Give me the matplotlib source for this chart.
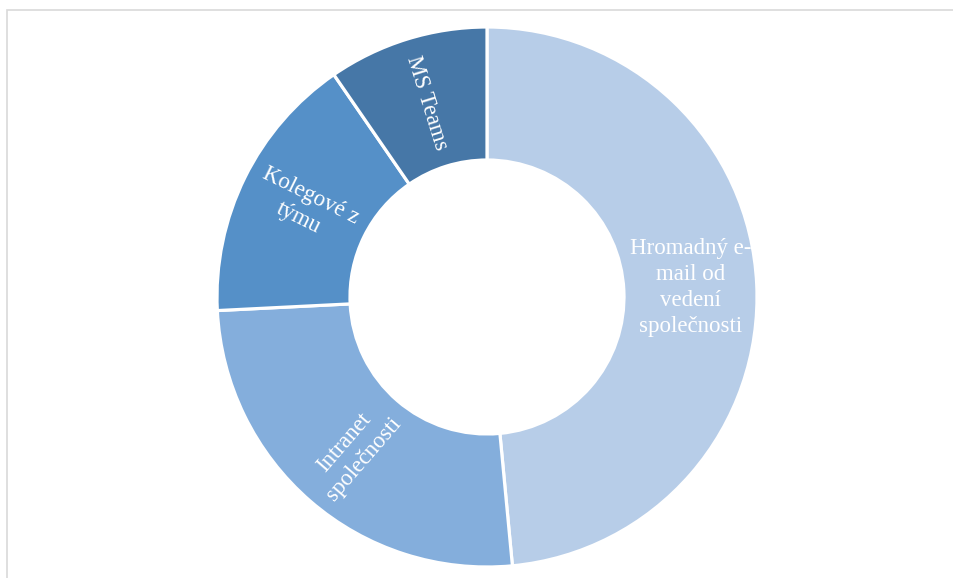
import numpy as np
import matplotlib.pyplot as plt
from matplotlib.patches import Rectangle

# Share of responses per communication channel (%)
channels = [
    "Hromadný e-\nmail od\nvedení\nspolečnosti",
    "Intranet\nspolečnosti",
    "Kolegové z\ntýmu",
    "MS Teams",
]
shares = [48.5, 25.7, 16.2, 9.6]
colors = ["#B7CDE8", "#84AEDC", "#5590C8", "#4677A7"]

W, H = 954, 578
fig = plt.figure(figsize=(W / 100, H / 100), dpi=100)
ax = fig.add_axes([0, 0, 1, 1])

# work in pixel units so the ring keeps its proportions
cx, cy = 487, 297
r_out, r_in = 270, 137

wedges, _ = ax.pie(
    shares,
    colors=colors,
    radius=r_out,
    startangle=90,
    counterclock=False,
    wedgeprops=dict(width=r_out - r_in, edgecolor="white", linewidth=2.3),
)
ax.set_xlim(-cx, W - cx)
ax.set_ylim(-(H - cy), cy)
ax.set_aspect("equal")
ax.axis("off")

# labels sit in the middle of the ring, turned along the radius
r_mid = (r_out + r_in) / 2
for w, label in zip(wedges, channels):
    theta = (w.theta1 + w.theta2) / 2
    t = np.deg2rad(theta)
    x, y = r_mid * np.cos(t), r_mid * np.sin(t)
    rot = (theta + 180) % 360 - 180
    if rot > 90:
        rot -= 180
    elif rot < -90:
        rot += 180
    if abs(rot) < 5:
        rot = 0
    ax.text(x, y, label, ha="center", va="center", rotation=rot,
            rotation_mode="anchor", color="white", fontsize=16.5,
            family="Liberation Serif", linespacing=1.3)

# chart area frame
fig.patches.append(Rectangle((7.5 / W, -0.05), 1.1, 1 - 10 / H + 0.05,
                             transform=fig.transFigure, fill=False,
                             edgecolor="#D9D9D9", linewidth=1.2))

fig.savefig("out.png", dpi=100)
